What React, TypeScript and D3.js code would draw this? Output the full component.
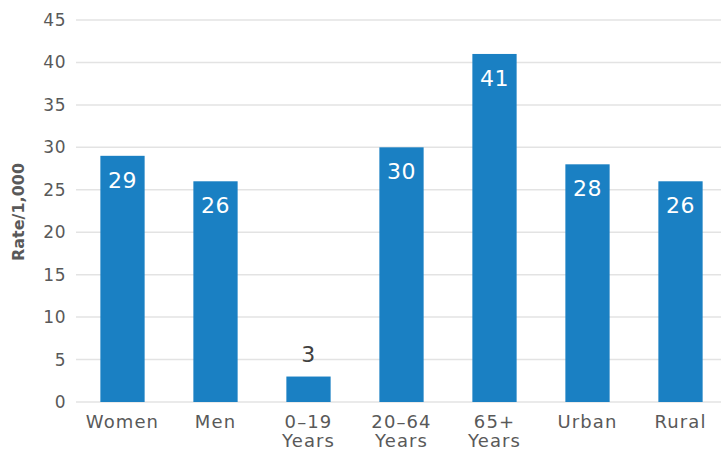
import { useEffect, useRef } from "react";
import * as d3 from "d3";

const categories = ["Women", "Men", "0–19\nYears", "20–64\nYears", "65+\nYears", "Urban", "Rural"];
const rates = [29, 26, 3, 30, 41, 28, 26];
const yTicks = [0, 5, 10, 15, 20, 25, 30, 35, 40, 45];

const width = 721;
const height = 451;
const FONT = "'DejaVu Sans', sans-serif";

export default function App() {
  const svgRef = useRef<SVGSVGElement>(null);

  useEffect(() => {
    if (!svgRef.current) return;
    const svg = d3.select(svgRef.current);
    svg.selectAll("*").remove();

    const x = d3.scaleBand<string>().domain(categories).range([76, 727]).paddingInner(0.524).paddingOuter(0.262);
    const y = d3.scaleLinear().domain([0, 45]).range([402, 20]);

    // gridlines
    svg
      .append("g")
      .selectAll("line")
      .data(yTicks)
      .join("line")
      .attr("x1", 76)
      .attr("x2", width)
      .attr("y1", (d) => y(d))
      .attr("y2", (d) => y(d))
      .attr("stroke", "#e3e3e3")
      .attr("stroke-width", 1.5);

    // y tick labels
    svg
      .append("g")
      .selectAll("text")
      .data(yTicks)
      .join("text")
      .attr("x", 66)
      .attr("y", (d) => y(d))
      .attr("dy", "0.35em")
      .attr("text-anchor", "end")
      .attr("font-family", FONT)
      .attr("font-size", 17)
      .attr("letter-spacing", 0.5)
      .attr("fill", "#595959")
      .text((d) => d);

    // axis title
    svg
      .append("text")
      .attr("transform", `translate(24,212) rotate(-90)`)
      .attr("text-anchor", "middle")
      .attr("font-family", FONT)
      .attr("font-size", 16)
      .attr("font-weight", "bold")
      .attr("fill", "#595959")
      .text("Rate/1,000");

    // bars
    svg
      .append("g")
      .selectAll("rect")
      .data(rates)
      .join("rect")
      .attr("x", (_, i) => x(categories[i])!)
      .attr("y", (d) => y(d))
      .attr("width", x.bandwidth())
      .attr("height", (d) => y(0) - y(d))
      .attr("fill", "#1a80c3");

    // value labels
    svg
      .append("g")
      .selectAll("text")
      .data(rates)
      .join("text")
      .attr("x", (_, i) => x(categories[i])! + x.bandwidth() / 2)
      .attr("y", (d) => (d < 5 ? y(d) - 15 : y(d) + 32))
      .attr("text-anchor", "middle")
      .attr("font-family", FONT)
      .attr("font-size", 22)
      .attr("letter-spacing", 0.5)
      .attr("fill", (d) => (d < 5 ? "#404040" : "#ffffff"))
      .text((d) => d);

    // category labels
    const cat = svg
      .append("g")
      .selectAll("text")
      .data(categories)
      .join("text")
      .attr("x", (d) => x(d)! + x.bandwidth() / 2)
      .attr("y", 428)
      .attr("text-anchor", "middle")
      .attr("font-family", FONT)
      .attr("font-size", 18)
      .attr("letter-spacing", 1.1)
      .attr("fill", "#595959");
    cat
      .selectAll("tspan")
      .data((d) => d.split("\n"))
      .join("tspan")
      .attr("x", function () {
        return (this.parentNode as SVGTextElement).getAttribute("x");
      })
      .attr("dy", (_, i) => (i === 0 ? 0 : 19))
      .text((d) => d);
  }, []);

  return (
    <svg
      ref={svgRef}
      width={width}
      height={height}
      style={{ position: "absolute", left: 0, top: 0, background: "#fff" }}
    />
  );
}
